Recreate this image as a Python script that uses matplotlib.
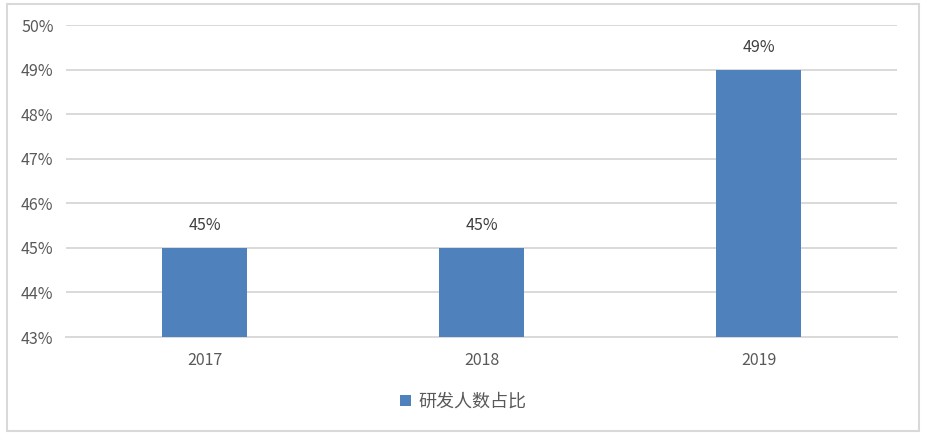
import matplotlib
matplotlib.use("Agg")
import matplotlib.pyplot as plt
from matplotlib.patches import Rectangle

plt.rcParams['font.family'] = ['Noto Sans CJK SC', 'DejaVu Sans']

# 数据
years = ['2017', '2018', '2019']
ratios = [45, 45, 49]
series_name = '研发人数占比'
y_ticks = [43, 44, 45, 46, 47, 48, 49, 50]

W, H = 933, 446
fig = plt.figure(figsize=(W / 100, H / 100), dpi=100)

# 外框
fig.patches.append(Rectangle((7 / W, 1 - 431 / H), (919 - 7) / W, (431 - 4) / H,
                             transform=fig.transFigure, fill=False,
                             edgecolor='#D9D9D9', linewidth=1.5))

ax = fig.add_axes([66 / W, 1 - 337 / H, (897 - 66) / W, (337 - 25) / H])
x = range(len(years))
bars = ax.bar(x, [r - 43 for r in ratios], bottom=43, width=0.31,
              color='#4F81BD', label=series_name, zorder=3)

for xi, r in zip(x, ratios):
    ax.annotate(f'{r}%', (xi, r), xytext=(0, 10), textcoords='offset points',
                ha='center', va='bottom', fontsize=11.5, color='#404040')

ax.set_xlim(-0.5, len(years) - 0.5)
ax.set_ylim(43, 50)
ax.set_yticks(y_ticks)
ax.set_yticklabels([f'{t}%' for t in y_ticks])
ax.set_xticks(list(x))
ax.set_xticklabels(years)
ax.tick_params(axis='both', length=0, labelsize=11.5, colors='#595959')
ax.tick_params(axis='x', pad=11)
ax.tick_params(axis='y', pad=9)
ax.grid(axis='y', color='#D9D9D9', linewidth=1.4, zorder=0)
for side in ['top', 'right', 'left']:
    ax.spines[side].set_visible(False)
ax.spines['bottom'].set_color('#D9D9D9')
ax.spines['bottom'].set_linewidth(1.4)

fig.legend(handles=[bars], labels=[series_name], loc='center',
           bbox_to_anchor=(463 / W, 1 - 402 / H), frameon=False,
           fontsize=13, handlelength=0.6, handleheight=0.6, handletextpad=0.4,
           labelcolor='#595959')

fig.savefig('out.png', dpi=100)
